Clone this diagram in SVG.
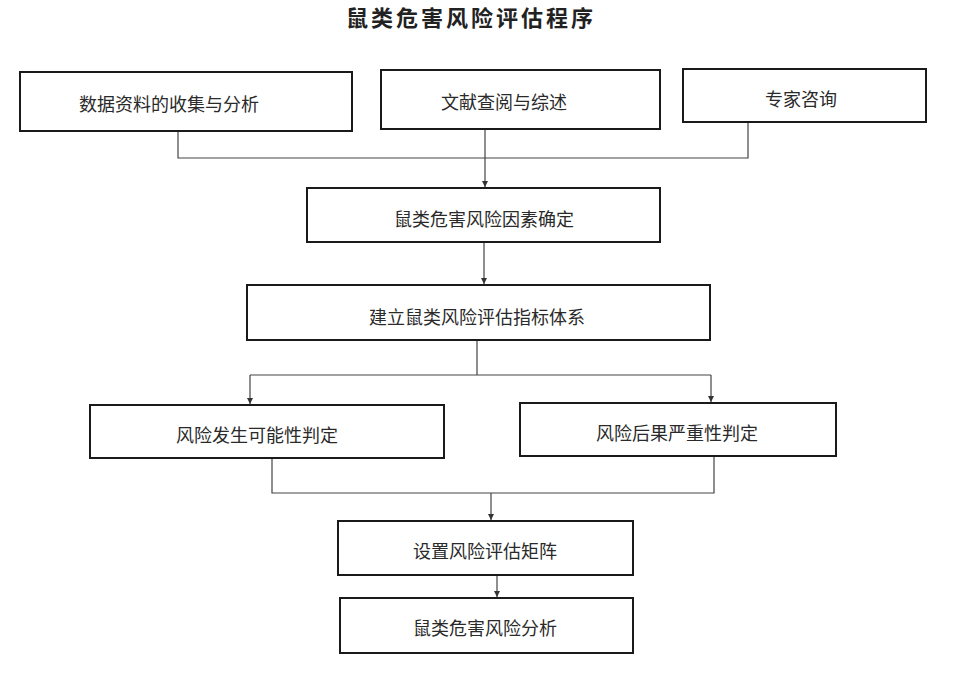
<svg xmlns="http://www.w3.org/2000/svg" width="977" height="677" viewBox="0 0 977 677">
<defs>
<style>
.box{fill:#fff;stroke:#1a1a1a;stroke-width:2}
.t{font-family:"Noto Sans CJK SC","Noto Sans",sans-serif;font-size:18px;fill:#2a2a2a;text-anchor:middle;dominant-baseline:central}
.title{font-family:"Noto Sans CJK SC","Noto Sans",sans-serif;font-size:22px;font-weight:bold;letter-spacing:3px;fill:#222;text-anchor:middle;dominant-baseline:central}
.c{fill:none;stroke:#444;stroke-width:1.2}
</style>
<marker id="ah" viewBox="0 0 10 10" refX="10" refY="5" markerWidth="6" markerHeight="10" markerUnits="userSpaceOnUse" orient="auto">
<path d="M0,0 L10,5 L0,10 z" fill="#333"/>
</marker>
</defs>
<rect width="977" height="677" fill="#fff"/>
<text class="title" x="471" y="16">鼠类危害风险评估程序</text>
<g id="connectors">
<path class="c" d="M178,131 V158 H748 V122"/>
<path class="c" d="M485,129 V187" marker-end="url(#ah)"/>
<path class="c" d="M484,242 V284" marker-end="url(#ah)"/>
<path class="c" d="M477,340 V375 M250,375 H711"/>
<path class="c" d="M250,375 V404" marker-end="url(#ah)"/>
<path class="c" d="M711,375 V402" marker-end="url(#ah)"/>
<path class="c" d="M272,458 V493 H714 V456"/>
<path class="c" d="M491,493 V520" marker-end="url(#ah)"/>
<path class="c" d="M497,575 V597" marker-end="url(#ah)"/>
</g>
<g id="n1"><rect class="box" x="20" y="72" width="332" height="59"/><text class="t" x="169" y="103">数据资料的收集与分析</text></g>
<g id="n2"><rect class="box" x="381" y="70" width="279" height="59"/><text class="t" x="504" y="101">文献查阅与综述</text></g>
<g id="n3"><rect class="box" x="683" y="69" width="243" height="53"/><text class="t" x="801" y="98">专家咨询</text></g>
<g id="n4"><rect class="box" x="307" y="188" width="353" height="54"/><text class="t" x="484" y="218">鼠类危害风险因素确定</text></g>
<g id="n5"><rect class="box" x="247" y="285" width="463" height="55"/><text class="t" x="477" y="316">建立鼠类风险评估指标体系</text></g>
<g id="n6"><rect class="box" x="90" y="405" width="354" height="53"/><text class="t" x="257" y="434">风险发生可能性判定</text></g>
<g id="n7"><rect class="box" x="520" y="403" width="316" height="53"/><text class="t" x="677" y="432">风险后果严重性判定</text></g>
<g id="n8"><rect class="box" x="338" y="521" width="295" height="54"/><text class="t" x="485" y="550">设置风险评估矩阵</text></g>
<g id="n9"><rect class="box" x="340" y="598" width="293" height="55"/><text class="t" x="485" y="627">鼠类危害风险分析</text></g>
</svg>
